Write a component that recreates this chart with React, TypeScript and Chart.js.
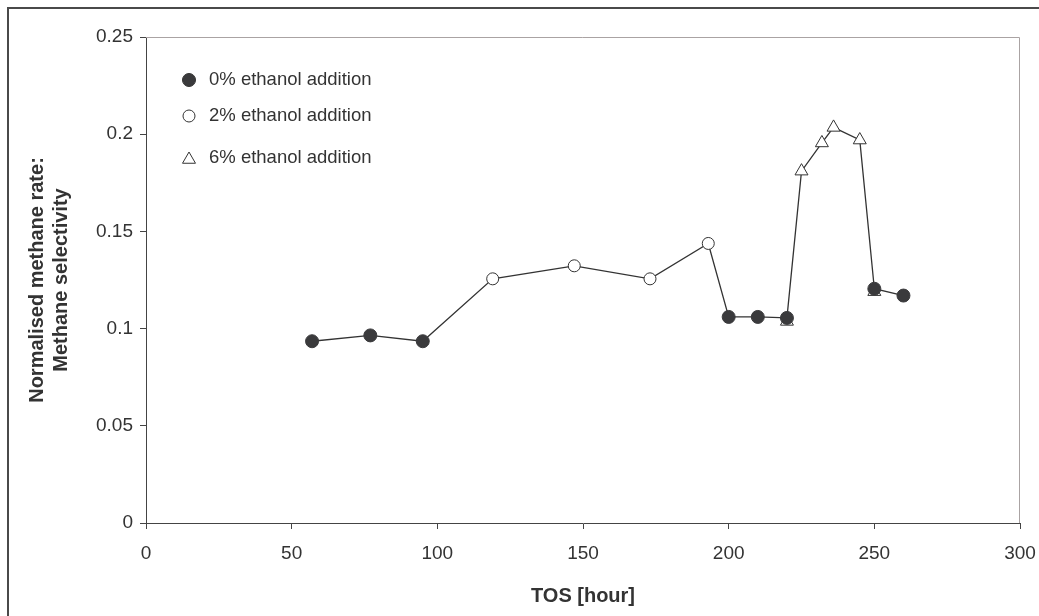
import React, { useEffect, useRef } from "react";
import { Chart, registerables } from "chart.js";

Chart.register(...registerables);

// Time on stream [hour] and normalised methane rate per ethanol feed level
const tos0 = [57, 77, 95, 200, 210, 220, 250, 260];
const sel0 = [0.0935, 0.0965, 0.0935, 0.106, 0.106, 0.1055, 0.1205, 0.117];

const tos2 = [119, 147, 173, 193];
const sel2 = [0.1256, 0.1323, 0.1256, 0.1438];

const tos6 = [220, 225, 232, 236, 245, 250];
const sel6 = [0.1037, 0.181, 0.1955, 0.2035, 0.197, 0.119];

const seriesNames = ["0% ethanol addition", "2% ethanol addition", "6% ethanol addition"];

const xTickLabels = ["0", "50", "100", "150", "200", "250", "300"];
const yTickLabels = ["0", "0.05", "0.1", "0.15", "0.2", "0.25"];

const INK = "#333333";
const FILL = "#3a3a3c";
const FONT = "'Liberation Sans', Arial, Helvetica, sans-serif";

const toPoints = (xs: number[], ys: number[]) => xs.map((x, i) => ({ x, y: ys[i] }));

// One continuous run through all measurements in time order (0% value wins on shared hours)
function buildPath() {
  const all = [...toPoints(tos0, sel0), ...toPoints(tos2, sel2), ...toPoints(tos6, sel6)];
  const seen = new Set<number>();
  const out: { x: number; y: number }[] = [];
  for (const p of all) {
    if (seen.has(p.x)) continue;
    seen.add(p.x);
    out.push(p);
  }
  return out.sort((a, b) => a.x - b.x);
}

function drawMarker(ctx: CanvasRenderingContext2D, kind: string, x: number, y: number, r: number) {
  ctx.beginPath();
  if (kind === "triangle") {
    for (let k = 0; k < 3; k++) {
      const a = (k * 2 * Math.PI) / 3;
      const px = x + Math.sin(a) * r;
      const py = y - Math.cos(a) * r;
      if (k === 0) ctx.moveTo(px, py);
      else ctx.lineTo(px, py);
    }
    ctx.closePath();
  } else {
    ctx.arc(x, y, r, 0, Math.PI * 2);
  }
}

const frameAndLegend = {
  id: "frameAndLegend",
  afterDraw(chart: any) {
    const { ctx, chartArea } = chart;
    ctx.save();
    // light top/right border of the plot box
    ctx.strokeStyle = "#aaa3a3";
    ctx.lineWidth = 1;
    ctx.beginPath();
    ctx.moveTo(chartArea.left, chartArea.top + 0.5);
    ctx.lineTo(chartArea.right - 0.5, chartArea.top + 0.5);
    ctx.lineTo(chartArea.right - 0.5, chartArea.bottom);
    ctx.stroke();

    // legend inside the plot
    const styles = [
      { kind: "circle", fill: FILL, r: 6.5 },
      { kind: "circle", fill: "#ffffff", r: 6 },
      { kind: "triangle", fill: "#ffffff", r: 7.5 },
    ];
    const rows = [80, 116, 158];
    ctx.font = `18.5px ${FONT}`;
    ctx.textBaseline = "middle";
    ctx.textAlign = "left";
    seriesNames.forEach((name, i) => {
      const s = styles[i];
      const my = s.kind === "triangle" ? rows[i] + 1.5 : rows[i];
      drawMarker(ctx, s.kind, 189, my, s.r);
      ctx.fillStyle = s.fill;
      ctx.fill();
      ctx.strokeStyle = INK;
      ctx.lineWidth = 1;
      ctx.stroke();
      ctx.fillStyle = INK;
      ctx.fillText(name, 209, rows[i]);
    });
    ctx.restore();
  },
};

export default function App() {
  const canvasRef = useRef<HTMLCanvasElement | null>(null);

  useEffect(() => {
    if (!canvasRef.current) return;
    const chart = new Chart(canvasRef.current, {
      type: "scatter",
      data: {
        datasets: [
          {
            label: seriesNames[0],
            data: toPoints(tos0, sel0),
            pointStyle: "circle",
            pointRadius: 6.5,
            pointBackgroundColor: FILL,
            pointBorderColor: FILL,
            pointBorderWidth: 1,
            showLine: false,
          },
          {
            label: seriesNames[1],
            data: toPoints(tos2, sel2),
            pointStyle: "circle",
            pointRadius: 6,
            pointBackgroundColor: "#ffffff",
            pointBorderColor: INK,
            pointBorderWidth: 1,
            showLine: false,
          },
          {
            label: seriesNames[2],
            data: toPoints(tos6, sel6),
            pointStyle: "triangle",
            pointRadius: 7.5,
            pointBackgroundColor: "#ffffff",
            pointBorderColor: INK,
            pointBorderWidth: 1,
            showLine: false,
          },
          {
            label: "path",
            data: buildPath(),
            showLine: true,
            pointRadius: 0,
            borderColor: INK,
            borderWidth: 1.3,
            tension: 0,
          },
        ],
      },
      options: {
        responsive: false,
        animation: false,
        layout: { padding: { left: 0, top: 37, right: 19, bottom: 0 } },
        plugins: {
          legend: { display: false },
          tooltip: { enabled: false },
        },
        scales: {
          x: {
            type: "linear",
            min: 0,
            max: 300,
            afterFit: (s: any) => {
              s.height = 93;
              s.paddingLeft = 0;
              s.paddingRight = 0;
            },
            afterBuildTicks: (s: any) => {
              s.ticks = xTickLabels.map((t) => ({ value: Number(t) }));
            },
            ticks: {
              callback: (_v: any, i: number) => xTickLabels[i],
              color: INK,
              font: { family: FONT, size: 19 },
              padding: 13,
              maxRotation: 0,
            },
            grid: {
              drawOnChartArea: false,
              drawTicks: true,
              tickLength: 6,
              color: "#444444",
            },
            border: { color: "#444444", width: 1 },
            title: {
              display: true,
              text: "TOS [hour]",
              color: INK,
              font: { family: FONT, size: 20, weight: "bold" },
              padding: { top: 0, bottom: 8 },
            },
          },
          y: {
            type: "linear",
            min: 0,
            max: 0.25,
            afterFit: (s: any) => {
              s.width = 146;
              s.paddingTop = 0;
              s.paddingBottom = 0;
            },
            afterBuildTicks: (s: any) => {
              s.ticks = yTickLabels.map((t) => ({ value: Number(t) }));
            },
            ticks: {
              callback: (_v: any, i: number) => yTickLabels[i],
              color: INK,
              font: { family: FONT, size: 19 },
              padding: 7,
            },
            grid: {
              drawOnChartArea: false,
              drawTicks: true,
              tickLength: 6,
              color: "#444444",
            },
            border: { color: "#444444", width: 1 },
            title: {
              display: true,
              text: ["Normalised methane rate:", "Methane selectivity"],
              color: INK,
              font: { family: FONT, size: 20, weight: "bold" },
              padding: { top: 25, bottom: 0 },
            },
          },
        },
      },
      plugins: [frameAndLegend],
    });
    return () => chart.destroy();
  }, []);

  return (
    <div>
      <div
        style={{
          position: "fixed",
          left: 7,
          top: 7,
          width: 2000,
          height: 2000,
          borderTop: "2px solid #4a4a4a",
          borderLeft: "2px solid #4a4a4a",
        }}
      />
      <canvas
        ref={canvasRef}
        width={1039}
        height={616}
        style={{ position: "fixed", left: 0, top: 0, width: 1039, height: 616 }}
      />
    </div>
  );
}
